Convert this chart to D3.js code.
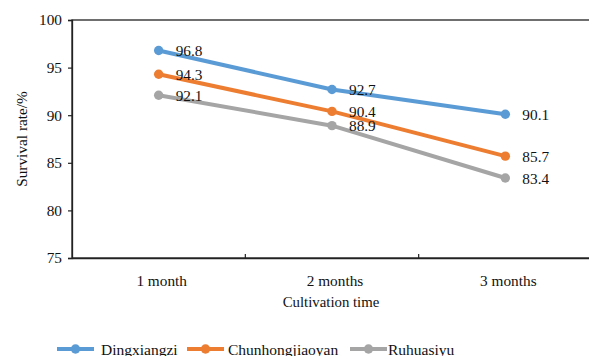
<!DOCTYPE html>
<html>
<head>
<meta charset="utf-8">
<script src="https://cdn.jsdelivr.net/npm/d3@7"></script>
<style>
  html, body { margin: 0; padding: 0; background: #fff; }
  svg { display: block; font-family: "Liberation Serif", "Times New Roman", serif; }
</style>
</head>
<body>
<svg id="chart" width="589" height="356"></svg>
<script>
const categories = ["1 month", "2 months", "3 months"];
const seriesNames = ["Dingxiangzi", "Chunhongjiaoyan", "Ruhuasiyu"];
const dingxiangzi = [96.8, 92.7, 90.1];
const chunhongjiaoyan = [94.3, 90.4, 85.7];
const ruhuasiyu = [92.1, 88.9, 83.4];
const yTicks = [75, 80, 85, 90, 95, 100];
const colors = ["#5B9BD5", "#ED7D31", "#A5A5A5"];

const series = [dingxiangzi, chunhongjiaoyan, ruhuasiyu].map((vals, i) => ({
  name: seriesNames[i], color: colors[i],
  points: vals.map((v, j) => ({ cat: categories[j], value: v }))
}));

const svg = d3.select("#chart");
const m = { left: 72, top: 20, right: 592, bottom: 258 };

const x = d3.scaleBand().domain(categories).range([m.left, m.right]);
const y = d3.scaleLinear().domain([75, 100]).range([m.bottom, m.top]);

// plot border
svg.append("rect")
  .attr("x", m.left).attr("y", m.top)
  .attr("width", m.right - m.left).attr("height", m.bottom - m.top)
  .attr("fill", "none").attr("stroke", "#222").attr("stroke-width", 1.3);

// y axis
const yAxis = svg.append("g").attr("transform", `translate(${m.left},0)`)
  .call(d3.axisLeft(y).tickValues(yTicks).tickSize(4).tickPadding(6));
yAxis.select(".domain").attr("stroke", "#222").attr("stroke-width", 1.3);
yAxis.selectAll(".tick line").attr("stroke", "#222").attr("stroke-width", 1.2);
yAxis.selectAll("text").attr("font-size", 15.3).attr("font-family", "Liberation Serif").attr("fill", "#111");

// x axis: inner ticks at band boundaries
const xAxis = svg.append("g").attr("transform", `translate(0,${m.bottom})`)
  .call(d3.axisBottom(x).tickSize(0).tickPadding(17));
xAxis.select(".domain").attr("stroke", "#222").attr("stroke-width", 1.3);
xAxis.selectAll("text").attr("font-size", 15.3).attr("font-family", "Liberation Serif").attr("fill", "#111")
  .attr("dx", 3);
xAxis.selectAll(".bd").data(categories.slice(1)).enter().append("line")
  .attr("x1", d => x(d)).attr("x2", d => x(d))
  .attr("y1", 0).attr("y2", -4)
  .attr("stroke", "#222").attr("stroke-width", 1.2);

// axis titles
svg.append("text")
  .attr("x", 331).attr("y", 307)
  .attr("text-anchor", "middle").attr("font-size", 14.8).attr("fill", "#111")
  .text("Cultivation time");
svg.append("text")
  .attr("transform", `translate(27,${(m.top + m.bottom) / 2}) rotate(-90)`)
  .attr("text-anchor", "middle").attr("font-size", 15.3).attr("fill", "#111")
  .text("Survival rate/%");

// lines
const line = d3.line().x(d => x(d.cat) + x.bandwidth() / 2).y(d => y(d.value));
const g = svg.append("g");
series.forEach(s => {
  g.append("path").datum(s.points)
    .attr("d", line).attr("fill", "none")
    .attr("stroke", s.color).attr("stroke-width", 4).attr("stroke-linejoin", "round");
});
series.forEach(s => {
  g.selectAll(null).data(s.points).enter().append("circle")
    .attr("cx", d => x(d.cat) + x.bandwidth() / 2)
    .attr("cy", d => y(d.value))
    .attr("r", 4.7).attr("fill", s.color);
});
series.forEach(s => {
  g.selectAll(null).data(s.points).enter().append("text")
    .attr("x", d => x(d.cat) + x.bandwidth() / 2 + 17)
    .attr("y", d => y(d.value) + 5.5)
    .attr("font-size", 15.3).attr("fill", "#111")
    .text(d => d.value.toFixed(1));
});

// legend
const legendLineX = [57, 187, 350];
const legendTextX = [101, 228, 388];
const lg = svg.append("g");
series.forEach((s, i) => {
  const lx = legendLineX[i], ly = 349;
  lg.append("line").attr("x1", lx).attr("x2", lx + 37).attr("y1", ly).attr("y2", ly)
    .attr("stroke", s.color).attr("stroke-width", 4);
  lg.append("circle").attr("cx", lx + 18.5).attr("cy", ly).attr("r", 4.7).attr("fill", s.color);
  lg.append("text").attr("x", legendTextX[i]).attr("y", ly + 5.5)
    .attr("font-size", 15.5).attr("fill", "#111").text(s.name);
});
</script>
</body>
</html>
